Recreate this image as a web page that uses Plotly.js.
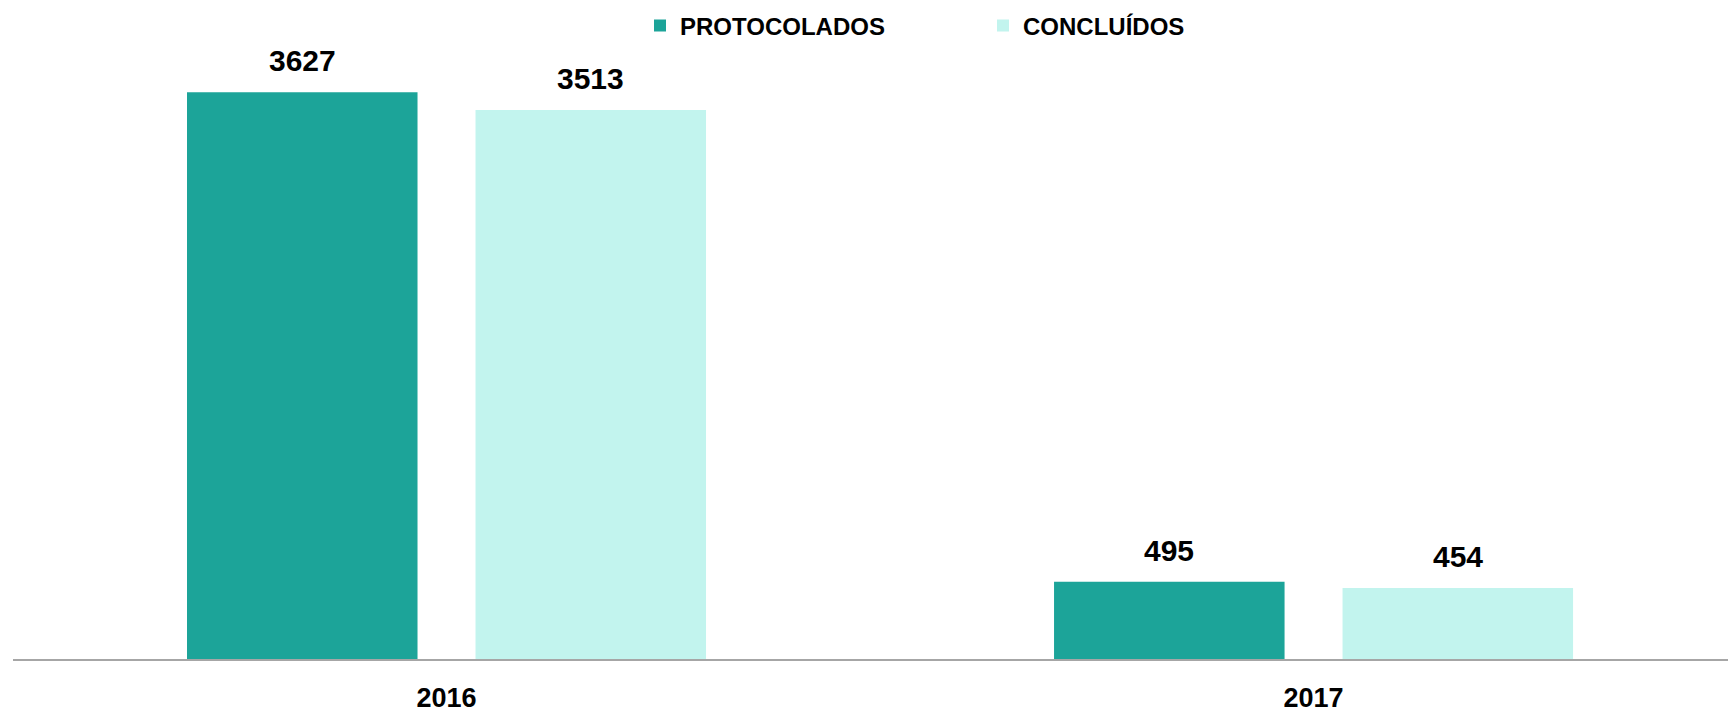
<!DOCTYPE html>
<html>
<head>
<meta charset="utf-8">
<script src="https://cdn.plot.ly/plotly-3.0.1.min.js"></script>
<style>
  html, body { margin: 0; padding: 0; background: #ffffff; }
  #chart { width: 1728px; height: 712px; }
</style>
</head>
<body>
<div id="chart"></div>
<script>
const categories = ["2016", "2017"];
const seriesNames = ["PROTOCOLADOS", "CONCLUÍDOS"];
const protocolados = [3627, 495];
const concluidos = [3513, 454];
const seriesColors = ["#1ca499", "#c2f4ee"];

const valueFont = { family: "Liberation Sans, Arial, sans-serif", size: 30, color: "#000000" };

const traces = [
  { type: "bar", name: seriesNames[0], x: categories, y: protocolados,
    marker: { color: seriesColors[0] }, hoverinfo: "x+y" },
  { type: "bar", name: seriesNames[1], x: categories, y: concluidos,
    marker: { color: seriesColors[1] }, hoverinfo: "x+y" }
];

const annotations = [];
[protocolados, concluidos].forEach(function (vals, si) {
  vals.forEach(function (v, i) {
    annotations.push({
      x: i, y: v, xref: "x", yref: "y",
      text: "<b>" + v + "</b>", showarrow: false,
      xanchor: "center", yanchor: "bottom",
      xshift: si === 0 ? -144.25 : 144.25, yshift: 13,
      font: valueFont
    });
  });
});

const layout = {
  width: 1728, height: 712,
  margin: { l: 13, r: 0, t: 34, b: 53 },
  paper_bgcolor: "#ffffff", plot_bgcolor: "#ffffff",
  barmode: "group", bargap: 0.3345, bargroupgap: 0.201,
  showlegend: true,
  legend: {
    orientation: "h", x: (640 - 13) / 1715, xanchor: "left",
    y: 1.0128, yanchor: "middle",
    entrywidth: 298, entrywidthmode: "pixels",
    font: { family: "Liberation Sans, Arial, sans-serif", size: 24, color: "#000000", weight: "bold" },
    bgcolor: "rgba(0,0,0,0)", traceorder: "normal"
  },
  xaxis: {
    type: "category", range: [-0.5, 1.478], fixedrange: true,
    showline: true, linecolor: "#a6a6a6", linewidth: 2,
    ticks: "", ticklabelstandoff: 14, showgrid: false, zeroline: false,
    tickfont: { family: "Liberation Sans, Arial, sans-serif", size: 27, color: "#000000", weight: "bold" }
  },
  yaxis: {
    range: [0, 4000], fixedrange: true,
    showgrid: false, zeroline: false, showline: false, showticklabels: false, ticks: ""
  },
  annotations: annotations
};

Plotly.newPlot("chart", traces, layout, { displayModeBar: false });
</script>
</body>
</html>
